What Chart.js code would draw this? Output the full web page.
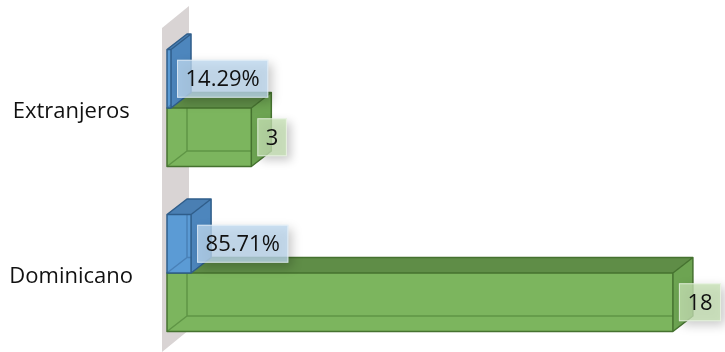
<!DOCTYPE html>
<html>
<head>
<meta charset="utf-8">
<script src="https://cdn.jsdelivr.net/npm/chart.js@4/dist/chart.umd.min.js"></script>
<style>
  html, body { margin: 0; padding: 0; background: #fff; overflow: hidden; }
  #wrap { width: 725px; height: 352px; overflow: hidden; position: relative; }
  #c { display: block; }
</style>
</head>
<body>
<div id="wrap"><canvas id="c" width="725" height="360"></canvas></div>
<script>
// Categories and series
const categories = ['Extranjeros', 'Dominicano'];
const shareValues = [0.1429, 0.8571];   // share of total (shown as %)
const countValues = [3, 18];            // number of people
const axisMax = 19;

const FONT = "'Open Sans', 'Noto Sans', sans-serif";
const FONT_SIZE = 22;

// Depth of the 3D boxes
const DX = 20, DY = -15.5;

const palettes = [
  { front: '#5b9bd5', top: '#4a7fb3', side: '#4d86bd', edge: '#2f5d8a', hidden: 'rgba(40,80,130,0.35)',
    box: 'rgba(189,215,238,0.78)' },
  { front: '#7cb55e', top: '#5f8d47', side: '#6da452', edge: '#45722f', hidden: 'rgba(60,110,40,0.45)',
    box: 'rgba(197,224,180,0.78)' }
];

function drawBox(ctx, x0, x1, y0, y1, p) {
  ctx.save();
  ctx.lineJoin = 'round';
  // front face
  ctx.fillStyle = p.front;
  ctx.fillRect(x0, y0, x1 - x0, y1 - y0);
  // back edges seen through the face
  ctx.strokeStyle = p.hidden;
  ctx.lineWidth = 1.5;
  ctx.beginPath();
  ctx.moveTo(x0, y1); ctx.lineTo(x0 + DX, y1 + DY);
  ctx.lineTo(x1 + DX, y1 + DY);
  ctx.moveTo(x0 + DX, y1 + DY); ctx.lineTo(x0 + DX, y0 + DY);
  ctx.stroke();
  // top face
  ctx.fillStyle = p.top;
  ctx.beginPath();
  ctx.moveTo(x0, y0); ctx.lineTo(x0 + DX, y0 + DY); ctx.lineTo(x1 + DX, y0 + DY); ctx.lineTo(x1, y0);
  ctx.closePath(); ctx.fill();
  // side face
  ctx.fillStyle = p.side;
  ctx.beginPath();
  ctx.moveTo(x1, y0); ctx.lineTo(x1 + DX, y0 + DY); ctx.lineTo(x1 + DX, y1 + DY); ctx.lineTo(x1, y1);
  ctx.closePath(); ctx.fill();
  // visible edges
  ctx.strokeStyle = p.edge;
  ctx.lineWidth = 1.5;
  ctx.beginPath();
  ctx.rect(x0, y0, x1 - x0, y1 - y0);
  ctx.moveTo(x0, y0); ctx.lineTo(x0 + DX, y0 + DY); ctx.lineTo(x1 + DX, y0 + DY); ctx.lineTo(x1, y0);
  ctx.moveTo(x1 + DX, y0 + DY); ctx.lineTo(x1 + DX, y1 + DY); ctx.lineTo(x1, y1);
  ctx.stroke();
  ctx.restore();
}

const bars3d = {
  id: 'bars3d',
  beforeDatasetsDraw(chart) {
    // side wall behind the bars
    const ctx = chart.ctx;
    const area = chart.chartArea;
    const x0 = chart.scales.x.getPixelForValue(0) - 5;
    const wx = 27, wy = -22;
    const top = area.top + 2.5, bottom = area.bottom - 3.5;
    ctx.save();
    ctx.fillStyle = '#d9d4d4';
    ctx.beginPath();
    ctx.moveTo(x0, top); ctx.lineTo(x0 + wx, top + wy);
    ctx.lineTo(x0 + wx, bottom + wy); ctx.lineTo(x0, bottom);
    ctx.closePath(); ctx.fill();
    ctx.restore();
  },
  afterDatasetsDraw(chart) {
    const ctx = chart.ctx;
    const n = categories.length;
    for (let i = 0; i < n; i++) {
      // lower bar first, upper bar on top of it
      for (let d = chart.data.datasets.length - 1; d >= 0; d--) {
        const el = chart.getDatasetMeta(d).data[i];
        const h = el.height;
        drawBox(ctx, el.base, el.x, el.y - h / 2, el.y + h / 2, palettes[d]);
      }
    }
    // value labels
    ctx.save();
    ctx.font = FONT_SIZE + 'px ' + FONT;
    ctx.textBaseline = 'middle';
    ctx.textAlign = 'center';
    chart.data.datasets.forEach((ds, d) => {
      chart.getDatasetMeta(d).data.forEach((el, i) => {
        const v = ds.data[i];
        const text = d === 0 ? (v * 100).toFixed(2) + '%' : String(v);
        const w = ctx.measureText(text).width + 17;
        const h = 38;
        const bx = el.x + 6, by = el.y - h / 2;
        ctx.save();
        ctx.shadowColor = 'rgba(0,0,0,0.28)';
        ctx.shadowBlur = 10;
        ctx.shadowOffsetX = 4;
        ctx.shadowOffsetY = 4;
        ctx.fillStyle = palettes[d].box;
        ctx.fillRect(bx, by, w, h);
        ctx.restore();
        ctx.strokeStyle = 'rgba(255,255,255,0.55)';
        ctx.lineWidth = 1;
        ctx.strokeRect(bx + 0.5, by + 0.5, w - 1, h - 1);
        ctx.fillStyle = '#111';
        ctx.fillText(text, bx + w / 2, el.y + 1);
      });
    });
    ctx.restore();
  }
};

new Chart(document.getElementById('c'), {
  type: 'bar',
  data: {
    labels: categories,
    datasets: [
      { label: '%', data: shareValues, backgroundColor: 'rgba(0,0,0,0)', borderWidth: 0,
        barPercentage: 1, categoryPercentage: 0.709 },
      { label: 'Cantidad', data: countValues, backgroundColor: 'rgba(0,0,0,0)', borderWidth: 0,
        barPercentage: 1, categoryPercentage: 0.709 }
    ]
  },
  options: {
    indexAxis: 'y',
    responsive: false,
    animation: false,
    devicePixelRatio: 1,
    layout: { padding: { left: 0, right: 24, top: 25.5, bottom: 4.5 } },
    plugins: { legend: { display: false }, tooltip: { enabled: false } },
    scales: {
      x: { type: 'linear', min: 0, max: axisMax, display: false },
      y: {
        type: 'category',
        grid: { display: false, drawTicks: false },
        border: { display: false },
        ticks: {
          color: '#111',
          font: { family: FONT, size: FONT_SIZE },
          padding: 34,
          crossAlign: 'center',
          labelOffset: 4
        },
        afterFit(scale) {
          scale.width = 167;
          scale.paddingTop = 0;
          scale.paddingBottom = 0;
        }
      }
    }
  },
  plugins: [bars3d]
});
</script>
</body>
</html>
